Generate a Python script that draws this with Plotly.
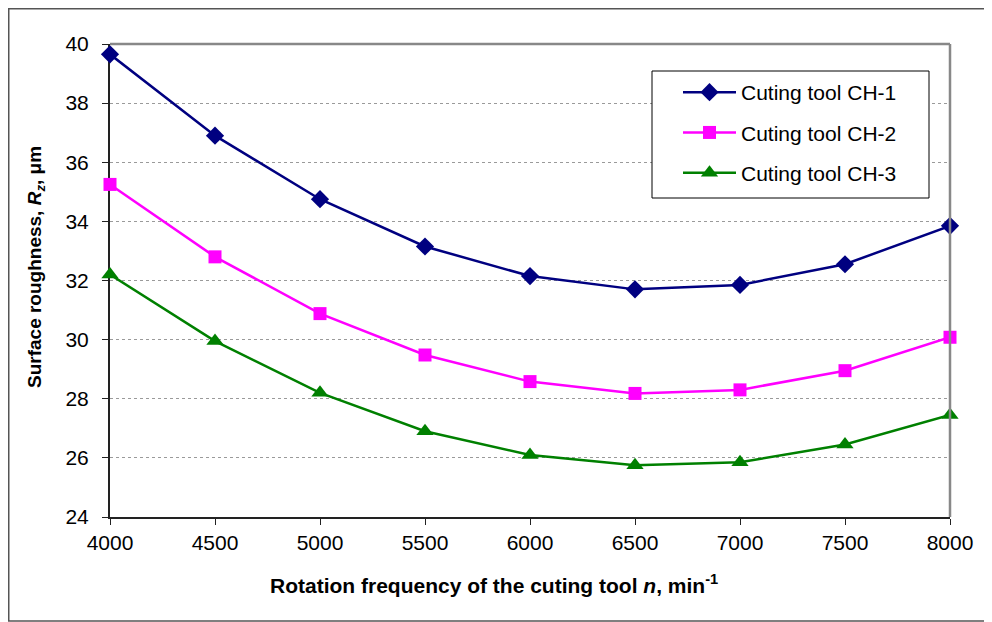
import plotly.graph_objects as go

rpm = [4000, 4500, 5000, 5500, 6000, 6500, 7000, 7500, 8000]
ch1 = [39.65, 36.9, 34.75, 33.15, 32.15, 31.7, 31.85, 32.55, 33.85]
ch2 = [35.25, 32.8, 30.88, 29.48, 28.58, 28.18, 28.3, 28.95, 30.08]
ch3 = [32.2, 29.95, 28.2, 26.9, 26.1, 25.75, 25.85, 26.45, 27.45]
names = ["Cuting tool CH-1", "Cuting tool CH-2", "Cuting tool CH-3"]
colors = ["#000080", "#FF00FF", "#008000"]
symbols = ["diamond", "square", "triangle-up"]
sizes = [14, 13, 15]

FONT = "Arial, Liberation Sans, sans-serif"
# page has an 8px body margin, so the figure is drawn 8px in from the page corner
W, H = 984, 614
L, R, T, B = 102, 42, 36, 105

fig = go.Figure()
for i, ys in enumerate([ch1, ch2, ch3]):
    fig.add_trace(go.Scatter(
        x=rpm, y=ys, name=names[i], mode="lines+markers",
        line=dict(color=colors[i], width=2.5),
        marker=dict(symbol=symbols[i], size=sizes[i], color=colors[i]),
        cliponaxis=False, legendgroup=f"g{i}",
    ))

pw, ph = W - L - R, H - T - B
def px(x):
    return (x - L) / pw
def py(y):
    return (H - B - y) / ph

fig.update_layout(
    width=W, height=H,
    margin=dict(l=L, r=R, t=T, b=B),
    paper_bgcolor="white", plot_bgcolor="white",
    font=dict(family=FONT, size=21, color="black"),
    showlegend=True,
    legend=dict(
        x=px(670), y=py(64), xanchor="left", yanchor="top",
        borderwidth=0, bgcolor="rgba(0,0,0,0)",
        font=dict(size=21), tracegroupgap=10, itemwidth=53,
    ),
    xaxis=dict(
        range=[4000, 8000], dtick=500, tick0=4000,
        showgrid=False, zeroline=False,
        showline=True, linecolor="#222", linewidth=2,
        ticks="outside", ticklen=6, tickcolor="#222", tickwidth=1,
        layer="below traces",
    ),
    yaxis=dict(
        range=[24, 40], dtick=2, tick0=24,
        showgrid=True, gridcolor="#9a9a9a", griddash="dot", gridwidth=1,
        zeroline=False,
        showline=True, linecolor="#222", linewidth=2,
        ticks="outside", ticklen=6, tickcolor="#222", tickwidth=1,
        ticklabelstandoff=9,
        layer="below traces",
    ),
    annotations=[
        dict(text="<b>Rotation frequency of the cuting tool <i>n</i>, min<sup>-1</sup></b>",
             xref="paper", yref="paper", x=px(486), y=py(576),
             xanchor="center", yanchor="middle", showarrow=False,
             font=dict(size=21)),
        dict(text="<b>Surface roughness, <i>R<sub>z</sub></i>, μm</b>",
             xref="paper", yref="paper", x=px(28), y=py(259),
             xanchor="center", yanchor="middle", showarrow=False,
             textangle=-90, font=dict(size=19)),
    ],
    shapes=[
        dict(type="line", xref="paper", yref="paper", x0=0, x1=1, y0=1, y1=1,
             line=dict(color="#888888", width=2.5)),
        dict(type="line", xref="paper", yref="paper", x0=1, x1=1, y0=0, y1=1,
             line=dict(color="#888888", width=2.5)),
        dict(type="rect", xref="paper", yref="paper",
             x0=px(644), x1=px(921), y0=py(190), y1=py(63),
             line=dict(color="black", width=1), fillcolor="white"),
        dict(type="rect", xref="paper", yref="paper",
             x0=px(0.75), x1=px(983), y0=py(613), y1=py(0.75),
             line=dict(color="#555555", width=1.5), fillcolor="rgba(0,0,0,0)",
             layer="below"),
    ],
)

fig.write_html("out.html")
